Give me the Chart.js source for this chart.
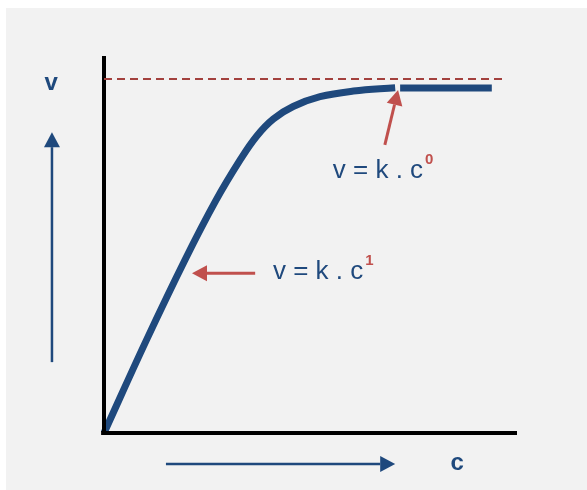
<!DOCTYPE html>
<html>
<head>
<meta charset="utf-8">
<script src="https://cdn.jsdelivr.net/npm/chart.js@4.4.1/dist/chart.umd.min.js"></script>
<style>
  html, body { margin: 0; padding: 0; background: #ffffff; }
  #wrap { width: 587px; height: 490px; position: relative; }
</style>
</head>
<body>
<div id="wrap"><canvas id="chart" width="587" height="490"></canvas></div>
<script>
// concentration (c) and rate (v), arbitrary units
const curveC = [0, 10.3, 19.6, 27, 33, 37, 41, 45.8, 52.3, 60.4, 70.5];
const curveV = [0, 24.7, 45.9, 61.5, 72.5, 78.8, 83.3, 86.6, 89.2, 90.7, 91.6];
// plateau segment (zero order)
const plateauC = [71.7, 93.9];
const plateauV = [91.5, 91.5];
// Vmax reference line
const vmaxC = [0, 97.1];
const vmaxV = [93.9, 93.9];

const BLUE = '#1f497d';
const RED = '#c0504d';
const DARK_RED = '#a3413e';
const FONT = '"Liberation Sans", Arial, sans-serif';

const toPts = (xs, ys) => xs.map((x, i) => ({ x: x, y: ys[i] }));

// arrows and labels, in data units
const arrows = [
  { from: [-12.6, 18.8], to: [-12.6, 79.8], color: BLUE, width: 2.5 },
  { from: [15.0, -8.2], to: [70.5, -8.2], color: BLUE, width: 2.5 },
  { from: [36.6, 42.4], to: [21.3, 42.4], color: RED, width: 3 },
  { from: [68.0, 76.4], to: [71.2, 91.0], color: RED, width: 3 }
];
const labels = [
  { text: 'v', x: -12.8, y: 92.8, bold: true },
  { text: 'c', x: 85.5, y: -8.0, bold: true },
  { text: 'v = k . c', sup: '1', x: 40.9, y: 40.8 },
  { text: 'v = k . c', sup: '0', x: 55.4, y: 67.6 }
];

const decor = {
  id: 'decor',
  beforeDraw(chart) {
    const ctx = chart.ctx;
    ctx.save();
    ctx.fillStyle = '#ffffff';
    ctx.fillRect(0, 0, chart.width, chart.height);
    ctx.fillStyle = '#f2f2f2';
    ctx.fillRect(6, 8, chart.width - 6, chart.height - 8);
    ctx.restore();
  },
  afterDraw(chart) {
    const ctx = chart.ctx;
    const xs = chart.scales.x, ys = chart.scales.y;
    ctx.save();
    arrows.forEach(a => {
      const x1 = xs.getPixelForValue(a.from[0]), y1 = ys.getPixelForValue(a.from[1]);
      const x2 = xs.getPixelForValue(a.to[0]), y2 = ys.getPixelForValue(a.to[1]);
      const ang = Math.atan2(y2 - y1, x2 - x1);
      const head = 15, half = 8;
      const bx = x2 - head * Math.cos(ang), by = y2 - head * Math.sin(ang);
      ctx.strokeStyle = a.color;
      ctx.lineWidth = a.width;
      ctx.beginPath();
      ctx.moveTo(x1, y1);
      ctx.lineTo(bx, by);
      ctx.stroke();
      ctx.fillStyle = a.color;
      ctx.beginPath();
      ctx.moveTo(x2, y2);
      ctx.lineTo(bx + half * Math.sin(ang), by - half * Math.cos(ang));
      ctx.lineTo(bx - half * Math.sin(ang), by + half * Math.cos(ang));
      ctx.closePath();
      ctx.fill();
    });
    labels.forEach(l => {
      const px = xs.getPixelForValue(l.x), py = ys.getPixelForValue(l.y);
      ctx.fillStyle = BLUE;
      if (l.bold) {
        ctx.font = 'bold 24px ' + FONT;
        ctx.textAlign = 'center';
        ctx.textBaseline = 'middle';
        ctx.fillText(l.text, px, py);
      } else {
        ctx.font = '26px ' + FONT;
        ctx.textAlign = 'left';
        ctx.textBaseline = 'alphabetic';
        ctx.fillText(l.text, px, py);
        const w = ctx.measureText(l.text).width;
        ctx.font = 'bold 15px ' + FONT;
        ctx.fillStyle = RED;
        ctx.fillText(l.sup, px + w + 2, py - 14);
      }
    });
    ctx.restore();
  }
};

new Chart(document.getElementById('chart'), {
  type: 'scatter',
  data: {
    datasets: [
      {
        data: toPts(vmaxC, vmaxV), showLine: true, pointRadius: 0,
        borderColor: DARK_RED, borderWidth: 2, borderDash: [8, 5]
      },
      {
        data: [{ x: 0, y: -0.5 }, { x: 0, y: 100 }], showLine: true, pointRadius: 0,
        borderColor: '#000000', borderWidth: 4
      },
      {
        data: [{ x: -0.7, y: 0 }, { x: 100, y: 0 }], showLine: true, pointRadius: 0,
        borderColor: '#000000', borderWidth: 4
      },
      {
        data: toPts(curveC, curveV), showLine: true, pointRadius: 0,
        borderColor: BLUE, borderWidth: 7, tension: 0.4,
        borderCapStyle: 'butt'
      },
      {
        data: toPts(plateauC, plateauV), showLine: true, pointRadius: 0,
        borderColor: BLUE, borderWidth: 7, borderCapStyle: 'butt'
      }
    ]
  },
  options: {
    responsive: false,
    animation: false,
    devicePixelRatio: 1,
    layout: { padding: { left: 104, right: 70, top: 56, bottom: 57 } },
    plugins: { legend: { display: false }, tooltip: { enabled: false } },
    elements: { line: { clip: false } },
    datasets: { scatter: { clip: false } },
    scales: {
      x: { type: 'linear', min: 0, max: 100, display: false },
      y: { type: 'linear', min: 0, max: 100, display: false }
    }
  },
  plugins: [decor]
});
</script>
</body>
</html>
